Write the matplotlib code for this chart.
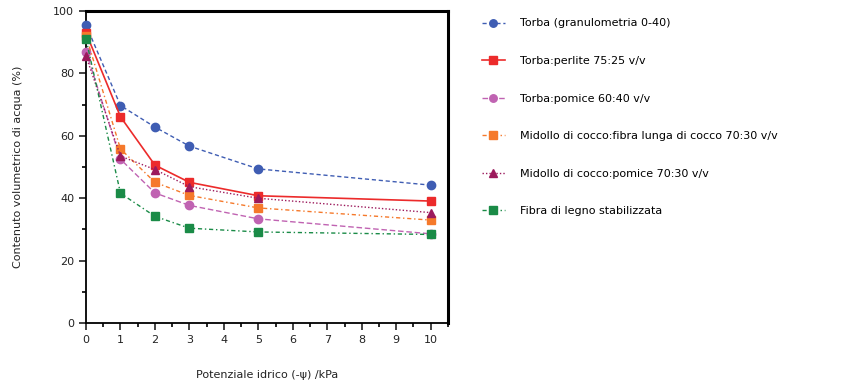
import matplotlib.pyplot as plt

# =========================================================
# Data
# =========================================================

x_kpa = [0, 1, 2, 3, 5, 10]

torba = [95.5, 69.7, 62.8, 56.7, 49.4, 44.2]
torba_perlite = [93.0, 66.1, 50.6, 45.1, 40.8, 39.1]
torba_pomice = [87.0, 52.5, 41.7, 37.7, 33.4, 28.6]
cocco_fibra = [92.0, 55.8, 45.1, 40.9, 36.9, 33.0]
cocco_pomice = [85.5, 53.5, 49.2, 43.7, 40.0, 35.4]
fibra_legno = [91.0, 41.6, 34.2, 30.4, 29.2, 28.4]

labels = [
    "Torba (granulometria 0-40)",
    "Torba:perlite 75:25 v/v",
    "Torba:pomice 60:40 v/v",
    "Midollo di cocco:fibra lunga di cocco 70:30 v/v",
    "Midollo di cocco:pomice 70:30 v/v",
    "Fibra di legno stabilizzata",
]

# =========================================================
# Figure
# =========================================================

plt.rcParams["font.family"] = ["DejaVu Sans"]

fig = plt.figure(figsize=(8.5, 3.86), dpi=100)
ax = fig.add_axes([0.1012, 0.163, 0.4258, 0.8085])

series = [
    (torba, "#3F5DB3", (0, (3, 2)), "o", 1.0, 6),
    (torba_perlite, "#EC2B2B", "-", "s", 1.2, 6),
    (torba_pomice, "#C063B2", (0, (4, 2)), "o", 1.0, 6),
    (cocco_fibra, "#F5792B", (0, (3, 2, 1, 2)), "s", 1.0, 6),
    (cocco_pomice, "#9C1A5C", (0, (1, 1.5)), "^", 1.0, 6),
    (fibra_legno, "#1A8B47", (0, (3, 2, 1, 2)), "s", 1.0, 6),
]

handles = []
for (vals, color, ls, mk, lw, ms), lab in zip(series, labels):
    h, = ax.plot(x_kpa, vals, color=color, linestyle=ls, marker=mk,
                 linewidth=lw, markersize=ms, label=lab, clip_on=False,
                 zorder=3)
    handles.append(h)

ax.set_xlim(0, 10.5)
ax.set_ylim(0, 100)
ax.set_xticks(range(0, 11))
ax.set_xticks([i + 0.5 for i in range(0, 11)], minor=True)
ax.set_yticks(range(0, 101, 20))
ax.set_yticks(range(10, 100, 20), minor=True)
ax.tick_params(which="both", direction="out", width=1.2)
ax.tick_params(which="major", length=5, labelsize=8, colors="#222222")
ax.tick_params(which="minor", length=3)

for side in ["left", "bottom"]:
    ax.spines[side].set_linewidth(1.3)
for side in ["top", "right"]:
    ax.spines[side].set_linewidth(2.2)

ax.set_xlabel("Potenziale idrico (-\u03c8) /kPa", fontsize=8, labelpad=18,
              color="#222222")
ax.set_ylabel("Contenuto volumetrico di acqua (%)", fontsize=8, labelpad=22,
              color="#222222")

fig.legend(handles=handles, loc="upper left", bbox_to_anchor=(0.555, 0.978),
           frameon=False, fontsize=8, labelspacing=2.48, handlelength=2.1,
           handletextpad=1.3, markerscale=0.9)

plt.savefig("out.png", dpi=100)
